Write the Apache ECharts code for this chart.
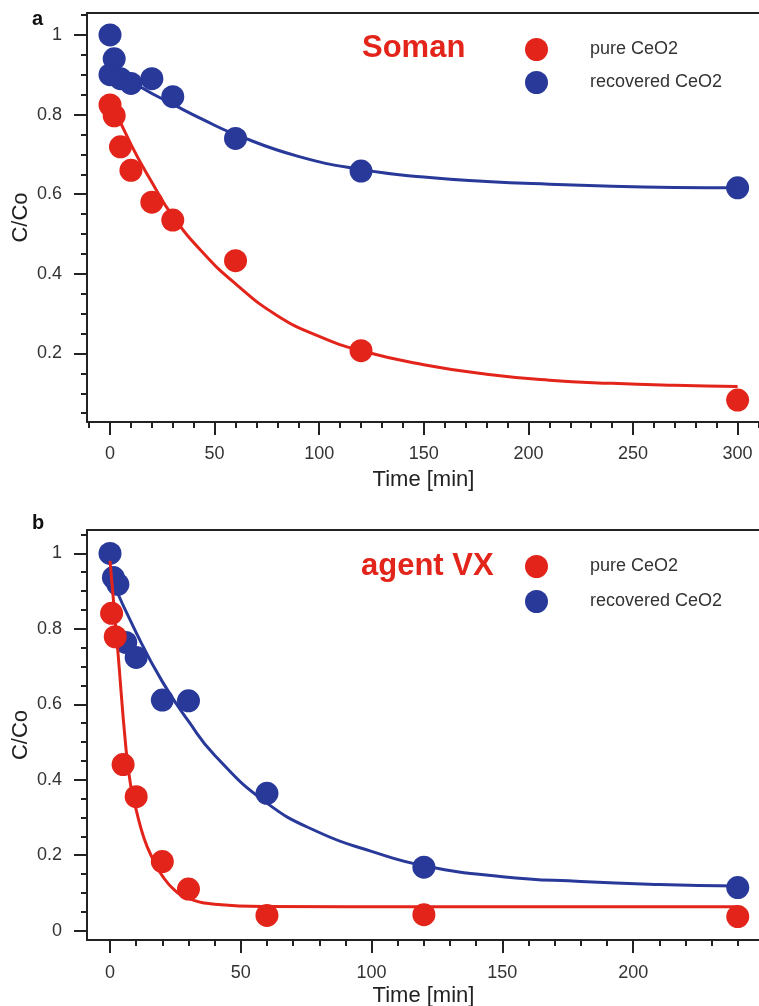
<!DOCTYPE html>
<html>
<head>
<meta charset="utf-8">
<title>C/Co vs Time</title>
<script src="https://cdn.jsdelivr.net/npm/echarts@6/dist/echarts.min.js"></script>
</head>
<body style="margin:0;background:#fff">
<div id="main" style="width:759px;height:1006px;"></div>
<script>
// panel a - Soman, measured points [time, C/Co]
var somanPure = [[0,0.824],[2,0.797],[5,0.719],[10,0.66],[20,0.58],[30,0.535],[60,0.433],[120,0.207],[300,0.083]];
var somanRecovered = [[0,1.0],[2,0.94],[0,0.9],[5,0.89],[10,0.878],[20,0.89],[30,0.845],[60,0.74],[120,0.658],[300,0.616]];
// fitted curves
var somanPureFit = [[0,0.84],[10,0.725],[20,0.63],[30,0.545],[45,0.45],[60,0.375],[80,0.295],[100,0.243],[120,0.207],[150,0.172],[180,0.148],[210,0.133],[240,0.125],[270,0.12],[300,0.117]];
var somanRecoveredFit = [[0,0.92],[15,0.868],[30,0.826],[45,0.786],[60,0.75],[90,0.695],[120,0.662],[150,0.643],[180,0.632],[210,0.625],[240,0.62],[270,0.617],[300,0.616]];

// panel b - agent VX
var vxPure = [[0.6,0.841],[2,0.779],[5,0.44],[10,0.355],[20,0.183],[30,0.11],[60,0.04],[120,0.042],[240,0.037]];
var vxRecovered = [[0,1.0],[1.3,0.936],[3,0.918],[6,0.764],[10,0.724],[20,0.611],[30,0.609],[60,0.364],[120,0.168],[240,0.114]];
var vxPureFit = [[0,0.98],[3,0.74],[6,0.49],[8,0.38],[10,0.32],[13,0.245],[16,0.195],[20,0.145],[25,0.105],[30,0.085],[40,0.07],[60,0.064],[120,0.063],[240,0.063]];
var vxRecoveredFit = [[0,0.94],[10,0.79],[20,0.66],[30,0.555],[40,0.465],[60,0.338],[80,0.26],[100,0.21],[120,0.172],[150,0.143],[180,0.13],[210,0.122],[240,0.118]];

// ticks
var xMajorA = [0,50,100,150,200,250,300];
var xMinorA = [-10,10,20,30,40,60,70,80,90,110,120,130,140,160,170,180,190,210,220,230,240,260,270,280,290,310];
var yMajorA = [0.2,0.4,0.6,0.8,1];
var yMinorA = [0.05,0.1,0.15,0.25,0.3,0.35,0.45,0.5,0.55,0.65,0.7,0.75,0.85,0.9,0.95,1.05];
var xMajorB = [0,50,100,150,200];
var xMinorB = [10,20,30,40,60,70,80,90,110,120,130,140,160,170,180,190,210,220,230,240];
var yMajorB = [0,0.2,0.4,0.6,0.8,1];
var yMinorB = [0.05,0.1,0.15,0.25,0.3,0.35,0.45,0.5,0.55,0.65,0.7,0.75,0.85,0.9,0.95,1.05];

var RED = '#e3241b';
var BLUE = '#28399a';
var AXIS = '#222';
var FONT = 'Liberation Sans, Arial, Helvetica, sans-serif';

var myChart = echarts.init(document.getElementById('main'));

function mainX(grid, min, max, ticks, margin, gap) {
    return {
        gridIndex: grid, type: 'value', position: 'bottom', min: min, max: max,
        axisLine: { show: true, onZero: false, lineStyle: { color: AXIS, width: 2 } },
        axisTick: { show: true, length: 13, customValues: ticks, lineStyle: { color: AXIS, width: 2 } },
        axisLabel: { customValues: ticks, margin: margin, fontSize: 18, color: '#333', fontFamily: FONT },
        splitLine: { show: false },
        name: 'Time [min]', nameLocation: 'middle', nameGap: gap,
        nameTextStyle: { fontSize: 22, color: '#222', fontFamily: FONT }
    };
}
function minorX(grid, min, max, ticks) {
    return {
        gridIndex: grid, type: 'value', position: 'bottom', min: min, max: max,
        axisLine: { show: false, onZero: false },
        axisTick: { show: true, length: 6, customValues: ticks, lineStyle: { color: AXIS, width: 2 } },
        axisLabel: { show: false }, splitLine: { show: false }
    };
}
function topX(grid, min, max) {
    return {
        gridIndex: grid, type: 'value', position: 'top', min: min, max: max,
        axisLine: { show: true, onZero: false, lineStyle: { color: AXIS, width: 2 } },
        axisTick: { show: false }, axisLabel: { show: false }, splitLine: { show: false }
    };
}
function mainY(grid, min, max, ticks) {
    return {
        gridIndex: grid, type: 'value', position: 'left', min: min, max: max,
        axisLine: { show: true, onZero: false, lineStyle: { color: AXIS, width: 2 } },
        axisTick: { show: true, length: 13, customValues: ticks, lineStyle: { color: AXIS, width: 2 } },
        axisLabel: { customValues: ticks, margin: 25, fontSize: 18, color: '#333', fontFamily: FONT },
        splitLine: { show: false },
        name: 'C/Co', nameLocation: 'middle', nameGap: 55, nameRotate: 90, nameMoveOverlap: false,
        nameTextStyle: { fontSize: 22, color: '#222', fontFamily: FONT }
    };
}
function minorY(grid, min, max, ticks) {
    return {
        gridIndex: grid, type: 'value', position: 'left', min: min, max: max,
        axisLine: { show: false, onZero: false },
        axisTick: { show: true, length: 6, customValues: ticks, lineStyle: { color: AXIS, width: 2 } },
        axisLabel: { show: false }, splitLine: { show: false }
    };
}
function dots(name, data, color, xi, yi) {
    return { name: name, type: 'scatter', xAxisIndex: xi, yAxisIndex: yi, data: data,
             symbol: 'circle', symbolSize: 23, itemStyle: { color: color, opacity: 1 }, z: 3 };
}
function fit(name, data, color, xi, yi) {
    return { name: name, type: 'line', xAxisIndex: xi, yAxisIndex: yi, data: data,
             showSymbol: false, smooth: 0.5,
             lineStyle: { color: color, width: 3 }, itemStyle: { color: color }, z: 4 };
}
function legendAt(top, gap) {
    return {
        data: ['pure CeO2', 'recovered CeO2'], orient: 'vertical', left: 520, top: top,
        icon: 'circle', itemWidth: 23, itemHeight: 23, itemGap: gap, selectedMode: false,
        textStyle: { fontSize: 18, color: '#333', fontFamily: FONT, padding: [0, 0, 0, 37] }
    };
}

var option = {
    backgroundColor: '#fff',
    animation: false,
    grid: [
        { left: 87, top: 13, width: 673, height: 409, outerBoundsMode: 'none' },
        { left: 87, top: 530, width: 673, height: 410, outerBoundsMode: 'none' }
    ],
    xAxis: [
        mainX(0, -11, 310.7, xMajorA, 23, 47),
        minorX(0, -11, 310.7, xMinorA),
        topX(0, -11, 310.7),
        mainX(1, -8.8, 248.5, xMajorB, 24, 45),
        minorX(1, -8.8, 248.5, xMinorB),
        topX(1, -8.8, 248.5)
    ],
    yAxis: [
        mainY(0, 0.028, 1.055, yMajorA),
        minorY(0, 0.028, 1.055, yMinorA),
        mainY(1, -0.025, 1.062, yMajorB),
        minorY(1, -0.025, 1.062, yMinorB)
    ],
    legend: [legendAt(33, 10), legendAt(550, 12)],
    graphic: [
        { type: 'text', left: 32, top: 9, style: { text: 'a', fill: '#111', font: 'bold 20px ' + FONT } },
        { type: 'text', left: 32, top: 513, style: { text: 'b', fill: '#111', font: 'bold 20px ' + FONT } },
        { type: 'text', left: 362, top: 33, style: { text: 'Soman', fill: RED, font: 'bold 31px ' + FONT } },
        { type: 'text', left: 361, top: 551, style: { text: 'agent VX', fill: RED, font: 'bold 31px ' + FONT } }
    ],
    series: [
        dots('recovered CeO2', somanRecovered, BLUE, 0, 0),
        dots('pure CeO2', somanPure, RED, 0, 0),
        fit('recovered fit a', somanRecoveredFit, BLUE, 0, 0),
        fit('pure fit a', somanPureFit, RED, 0, 0),
        dots('recovered CeO2', vxRecovered, BLUE, 3, 2),
        dots('pure CeO2', vxPure, RED, 3, 2),
        fit('recovered fit b', vxRecoveredFit, BLUE, 3, 2),
        fit('pure fit b', vxPureFit, RED, 3, 2)
    ]
};
myChart.setOption(option);
</script>
</body>
</html>
